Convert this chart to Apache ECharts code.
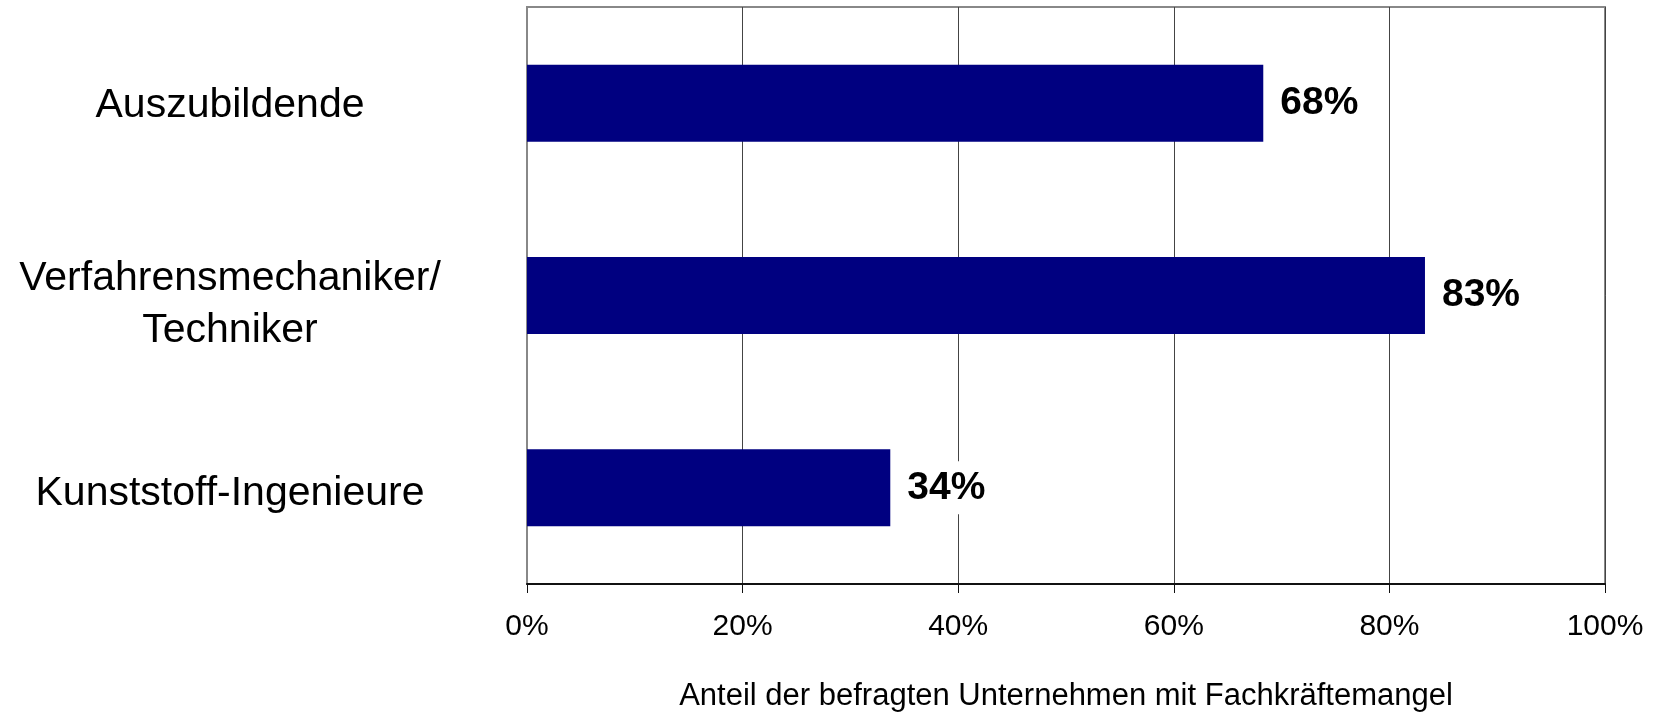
<!DOCTYPE html>
<html>
<head>
<meta charset="utf-8">
<title>Fachkräftemangel</title>
<script src="https://cdn.jsdelivr.net/npm/echarts@6/dist/echarts.min.js"></script>
<style>
  html, body {
    margin: 0;
    padding: 0;
    background: #fff;
  }
  #chart {
    width: 1661px;
    height: 712px;
  }
</style>
</head>
<body>
<div id="chart"></div>
<script>
// categories top to bottom
const categories = ['Auszubildende', 'Verfahrensmechaniker/\nTechniker', 'Kunststoff-Ingenieure']
// share of companies (labels are rounded)
const shares = [68.3, 83.3, 33.7]
const xTicks = [0, 20, 40, 60, 80, 100]
const axisName = 'Anteil der befragten Unternehmen mit Fachkräftemangel'

const fontFamily = '"Liberation Sans", Arial, Helvetica, sans-serif'

const chart = echarts.init(document.getElementById('chart'))

// axisLabel padding is ignored, so push each label down with an empty spacer line
const spacerHeights = [6, 18, 12]

const formatCategory = (value, index) => {
  const lines = value.split('\n').map(l => '{t|' + l + '}')
  return '{s' + index + '| }\n' + lines.join('\n')
}

const categoryRich = {
  t: {
    fontSize: 41,
    lineHeight: 52,
    color: '#000',
    fontFamily: fontFamily
  }
}
spacerHeights.forEach((h, i) => {
  categoryRich['s' + i] = { fontSize: 1, lineHeight: h }
})

const option = {
  backgroundColor: '#fff',
  animation: false,
  textStyle: { fontFamily: fontFamily },
  grid: {
    left: 527,
    right: 56,
    top: 7,
    bottom: 128,
    // keep the grid where it is, the axis name may run off the bottom edge
    outerBoundsMode: 'none',
    containLabel: false,
    show: true,
    borderColor: '#888',
    borderWidth: 2
  },
  xAxis: {
    type: 'value',
    min: xTicks[0],
    max: xTicks[xTicks.length - 1],
    interval: 20,
    name: axisName,
    nameLocation: 'middle',
    nameGap: 97,
    nameTextStyle: {
      fontSize: 31,
      color: '#000',
      fontFamily: fontFamily
    },
    axisLine: {
      show: true,
      lineStyle: { color: '#111', width: 2 }
    },
    axisTick: {
      show: true,
      length: 9,
      lineStyle: { color: '#111', width: 1 }
    },
    axisLabel: {
      fontSize: 30,
      color: '#000',
      margin: 28,
      formatter: v => v + '%'
    },
    splitLine: {
      show: true,
      lineStyle: { color: '#444', width: 1 }
    }
  },
  yAxis: {
    type: 'category',
    inverse: true,
    data: categories,
    axisLine: {
      show: true,
      lineStyle: { color: '#888', width: 2 }
    },
    axisTick: { show: false },
    axisLabel: {
      color: '#000',
      align: 'center',
      margin: 297,
      formatter: formatCategory,
      rich: categoryRich
    }
  },
  series: [
    {
      type: 'bar',
      data: shares,
      barWidth: '40%',
      itemStyle: { color: '#000080' },
      label: {
        show: true,
        position: 'right',
        distance: 13,
        fontSize: 39,
        fontWeight: 'bold',
        color: '#000',
        backgroundColor: '#fff',
        padding: [7, 4],
        formatter: p => Math.round(p.value) + '%'
      }
    }
  ]
}

chart.setOption(option)
</script>
</body>
</html>
